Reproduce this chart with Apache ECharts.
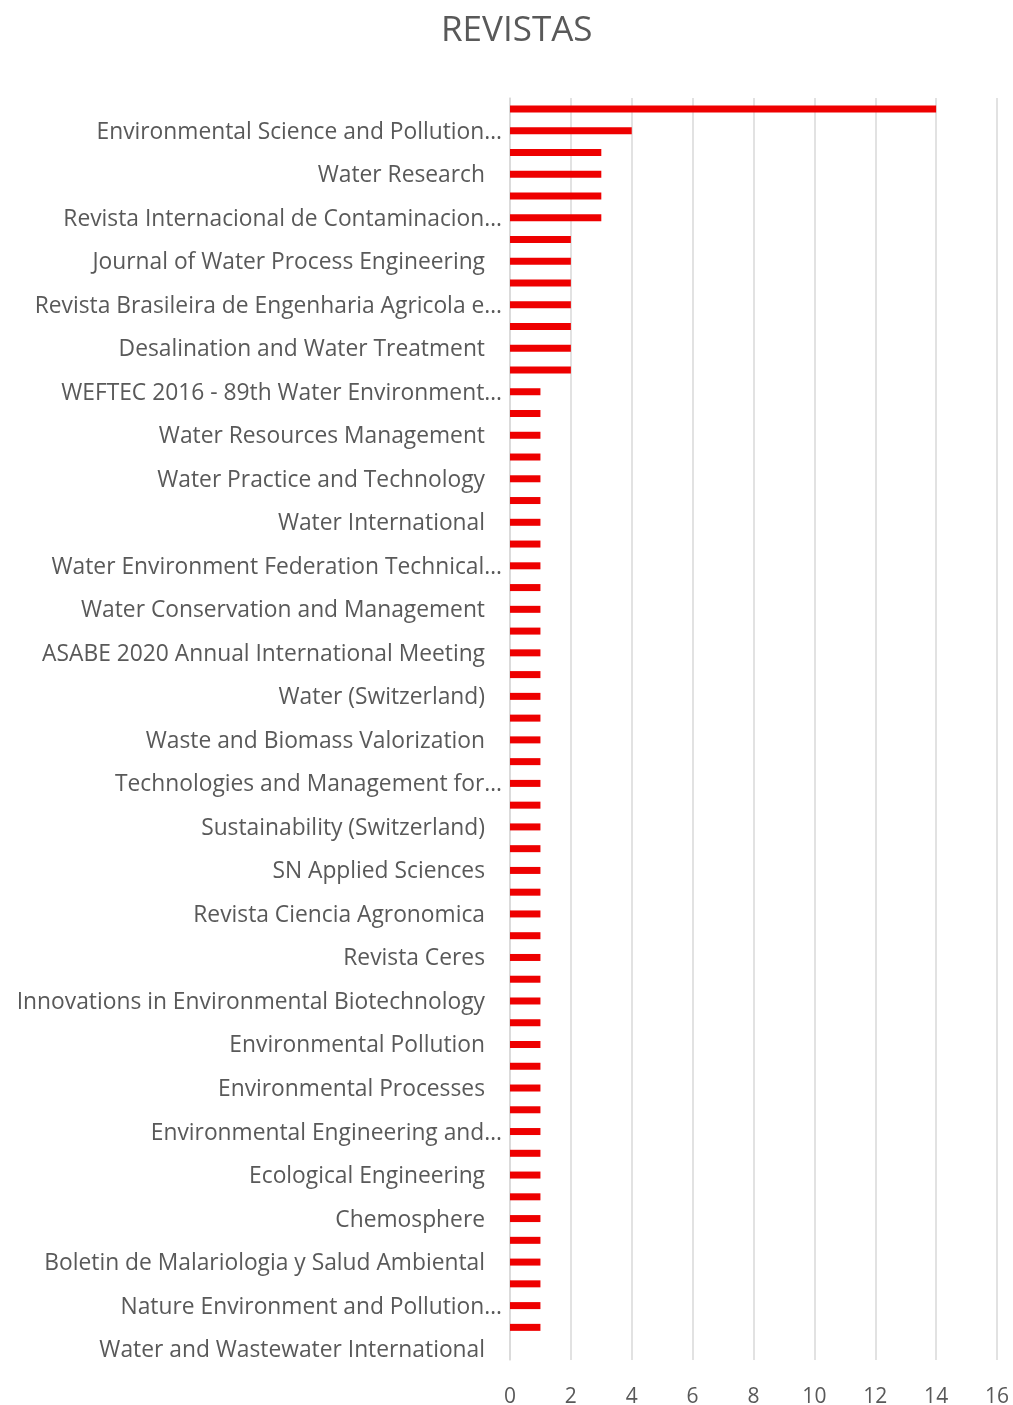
<!DOCTYPE html>
<html>
<head>
<meta charset="utf-8">
<script src="https://cdn.jsdelivr.net/npm/echarts@6/dist/echarts.min.js"></script>
<style>
  html, body { margin: 0; padding: 0; background: #fff; }
  #chart { width: 1013px; height: 1405px; }
</style>
</head>
<body>
<div id="chart"></div>
<script>
// categorias de abajo hacia arriba (solo se ve una de cada dos etiquetas)
const revistas = [
  'Water and Wastewater International', '',
  'Nature Environment and Pollution…', '',
  'Boletin de Malariologia y Salud Ambiental', '',
  'Chemosphere', '',
  'Ecological Engineering', '',
  'Environmental Engineering and…', '',
  'Environmental Processes', '',
  'Environmental Pollution', '',
  'Innovations in Environmental Biotechnology', '',
  'Revista Ceres', '',
  'Revista Ciencia Agronomica', '',
  'SN Applied Sciences', '',
  'Sustainability (Switzerland)', '',
  'Technologies and Management for…', '',
  'Waste and Biomass Valorization', '',
  'Water (Switzerland)', '',
  'ASABE 2020 Annual International Meeting', '',
  'Water Conservation and Management', '',
  'Water Environment Federation Technical…', '',
  'Water International', '',
  'Water Practice and Technology', '',
  'Water Resources Management', '',
  'WEFTEC 2016 - 89th Water Environment…', '',
  'Desalination and Water Treatment', '',
  'Revista Brasileira de Engenharia Agricola e…', '',
  'Journal of Water Process Engineering', '',
  'Revista Internacional de Contaminacion…', '',
  'Water Research', '',
  'Environmental Science and Pollution…', ''
]
const documentos = [
  0, 1, 1, 1, 1, 1, 1, 1, 1, 1,
  1, 1, 1, 1, 1, 1, 1, 1, 1, 1,
  1, 1, 1, 1, 1, 1, 1, 1, 1, 1,
  1, 1, 1, 1, 1, 1, 1, 1, 1, 1,
  1, 1, 1, 1, 1, 2, 2, 2, 2, 2,
  2, 2, 3, 3, 3, 3, 4, 14
]
const ticksX = [0, 2, 4, 6, 8, 10, 12, 14, 16]

const myChart = echarts.init(document.getElementById('chart'))
myChart.setOption({
  animation: false,
  title: {
    text: 'REVISTAS',
    left: 436,
    top: 9,
    textStyle: { fontFamily: 'Open Sans', fontSize: 35, fontWeight: 'normal', color: '#595959' }
  },
  grid: { left: 510, right: 16, top: 98, bottom: 45, outerBoundsMode: 'none', containLabel: false },
  xAxis: {
    type: 'value',
    min: ticksX[0],
    max: ticksX[ticksX.length - 1],
    interval: 2,
    axisLine: { show: false },
    axisTick: { show: false },
    splitLine: { lineStyle: { color: '#d9d9d9', width: 1.5 } },
    axisLabel: { fontFamily: 'Open Sans', fontSize: 21, color: '#595959', margin: 27 }
  },
  yAxis: {
    type: 'category',
    data: revistas,
    axisLine: { show: true, lineStyle: { color: '#d9d9d9', width: 1.5 } },
    axisTick: { show: false },
    axisLabel: {
      interval: 1,
      margin: 8,
      fontFamily: 'Open Sans',
      fontSize: 22.8,
      color: '#595959',
      formatter: (v) => (v.endsWith('…') ? '{t|' + v + '}' : '{n|' + v + '}'),
      rich: {
        t: { fontFamily: 'Open Sans', fontSize: 22.8, color: '#595959', padding: [3, 0, 0, 0] },
        n: { fontFamily: 'Open Sans', fontSize: 22.8, color: '#595959', padding: [3, 17, 0, 0] }
      }
    }
  },
  series: [
    {
      type: 'bar',
      data: documentos,
      barWidth: 7,
      itemStyle: { color: '#ee0000' }
    }
  ]
})
</script>
</body>
</html>
